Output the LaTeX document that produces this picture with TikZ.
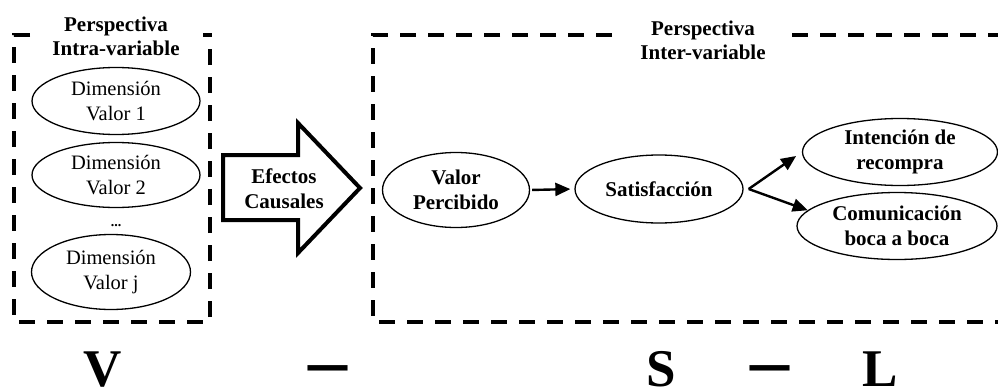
\documentclass[tikz,border=0pt]{standalone}
\usepackage{fontspec}
\setmainfont{Liberation Serif}
\usetikzlibrary{shapes.geometric,arrows.meta}
\begin{document}
\begin{tikzpicture}[x=1pt,y=-1pt,
 ell/.style={draw,ellipse,line width=1.3pt,inner sep=0pt,align=center,font=\fontsize{20.5}{24.5}\selectfont},
 bell/.style={ell,font=\fontsize{21}{24.5}\selectfont\bfseries},
 box/.style={line width=3.5pt,dash pattern=on 16pt off 12pt},
 conn/.style={line width=2.4pt,-{Triangle[length=15pt,width=13pt]}},
 ttl/.style={align=center,font=\fontsize{21}{24}\selectfont\bfseries,inner sep=0pt},
 big/.style={font=\fontsize{53}{53}\selectfont\bfseries,inner sep=0pt,anchor=base},
 bigarrow/.style={line width=4pt,miter limit=10}]
\useasboundingbox (0,0) rectangle (998,388);
\clip (0,0) rectangle (998,388);
% boxes
\draw[box] (30,35) -- (14,35) -- (14,322) -- (210,322) -- (210,35) -- (203,35);
\draw[box] (612,35) -- (373,35) -- (373,322) -- (1010,322);
\draw[box] (792,35) -- (1010,35);
\node[ttl] (tl) at (116,36) {Perspectiva\\Intra-variable};
\node[ttl] (tr) at (703,40) {Perspectiva\\Inter-variable};
% left ellipses
\node[ell,minimum width=168pt,minimum height=67pt] (d1) at (116,101) {Dimensión\\Valor 1};
\node[ell,minimum width=168pt,minimum height=65pt] (d2) at (116,175) {Dimensión\\Valor 2};
\node[inner sep=0pt,font=\fontsize{14}{14}\selectfont\bfseries] (dots) at (116,226) {...};
\node[ell,minimum width=159pt,minimum height=75pt] (d3) at (111,272) {Dimensión\\Valor j};
% big arrow
\draw[bigarrow] (223,155) -- (298,155) -- (298,123) -- (360,188) -- (298,253) -- (298,220) -- (223,220) -- cycle;
\node[ttl,font=\fontsize{21}{25}\selectfont\bfseries] (ef) at (284,189) {Efectos\\Causales};
% right ellipses
\node[bell,minimum width=147pt,minimum height=75pt] (vp) at (456,190) {Valor\\Percibido};
\node[bell,minimum width=168pt,minimum height=68pt] (sat) at (659,189) {Satisfacción};
\node[bell,minimum width=195pt,minimum height=67pt] (int) at (900,152) {Intención de\\recompra};
\node[bell,minimum width=200pt,minimum height=67pt] (com) at (897,226) {Comunicación\\boca a boca};
\coordinate (fork) at ([xshift=5pt]sat.east);
\draw[conn,shorten <=2pt,shorten >=4pt] (vp.east) -- (sat.west);
\draw[conn,shorten >=7pt] (fork) -- (int.west);
\draw[conn] (fork) -- (com.170);
% bottom letters
\node[big] (lv) at (103,386) {V};
\node[big,font=\fontsize{78}{78}\selectfont\bfseries] (m1) at (328,386) {–};
\node[big] (ls) at (661,386) {S};
\node[big,font=\fontsize{78}{78}\selectfont\bfseries] (m2) at (770,386) {–};
\node[big] (ll) at (880,386) {L};
\end{tikzpicture}
\end{document}
